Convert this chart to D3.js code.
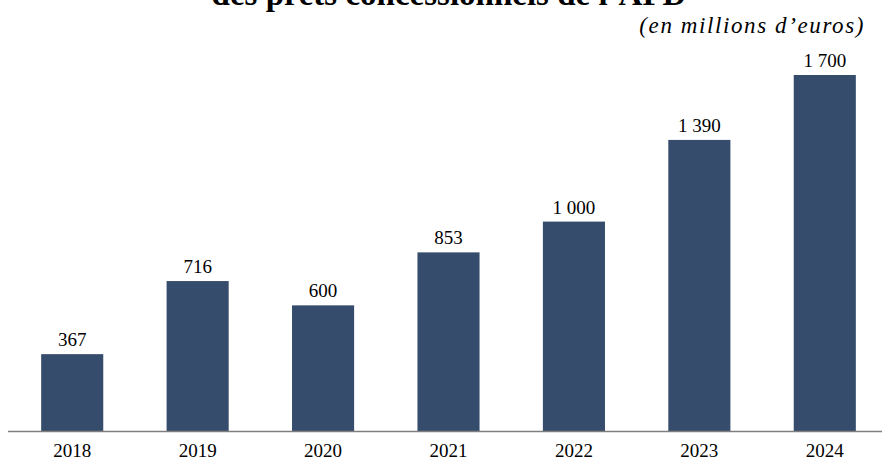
<!DOCTYPE html>
<html><head><meta charset="utf-8">
<script src="https://cdn.jsdelivr.net/npm/d3@7"></script>
<style>body{margin:0;background:#fff}svg{display:block}</style>
</head><body>
<script>
const years = ["2018","2019","2020","2021","2022","2023","2024"];
const values = [367, 716, 600, 853, 1000, 1390, 1700];
const labels = ["367","716","600","853","1 000","1 390","1 700"];
const title = "des prêts concessionnels de l’AFD";
const subtitle = "(en millions d’euros)";

const W = 882, H = 461;
const svg = d3.select("body").append("svg").attr("width", W).attr("height", H);

const x = d3.scaleBand().domain(years).range([9.5, 887.5]).paddingInner(0.505).paddingOuter(0.2525);
const y = d3.scaleLinear().domain([0, 1700]).range([431, 75]);

svg.append("text").attr("x", 449).attr("y", 5).attr("text-anchor", "middle")
  .attr("font-family", "Liberation Serif").attr("font-weight", "bold").attr("font-size", 33)
  .attr("fill", "#000").text(title);
svg.append("text").attr("x", 865).attr("y", 33).attr("text-anchor", "end")
  .attr("font-family", "Liberation Serif").attr("font-style", "italic").attr("font-size", 23)
  .attr("letter-spacing", 1.6)
  .attr("fill", "#000").text(subtitle);

const data = years.map((d, i) => ({year: d, v: values[i], l: labels[i]}));

svg.selectAll("rect.bar").data(data).enter().append("rect").attr("class", "bar")
  .attr("x", d => x(d.year)).attr("width", x.bandwidth())
  .attr("y", d => y(d.v)).attr("height", d => y(0) - y(d.v))
  .attr("fill", "#364c6c");

svg.selectAll("text.val").data(data).enter().append("text").attr("class", "val")
  .attr("x", d => x(d.year) + x.bandwidth() / 2).attr("y", d => y(d.v) - 8)
  .attr("text-anchor", "middle").attr("font-family", "Liberation Serif").attr("font-size", 19)
  .attr("fill", "#000").text(d => d.l);

const ax = svg.append("g").attr("transform", "translate(0,431)")
  .call(d3.axisBottom(x).tickSize(0).tickPadding(13));
ax.select(".domain").remove();
ax.selectAll("text").attr("font-family", "Liberation Serif").attr("font-size", 19).attr("fill", "#000").attr("dy", "0.71em");
svg.append("line").attr("x1", 8).attr("x2", W).attr("y1", 431.5).attr("y2", 431.5)
  .attr("stroke", "#7f7f7f").attr("stroke-width", 1.3);
</script>
</body></html>
